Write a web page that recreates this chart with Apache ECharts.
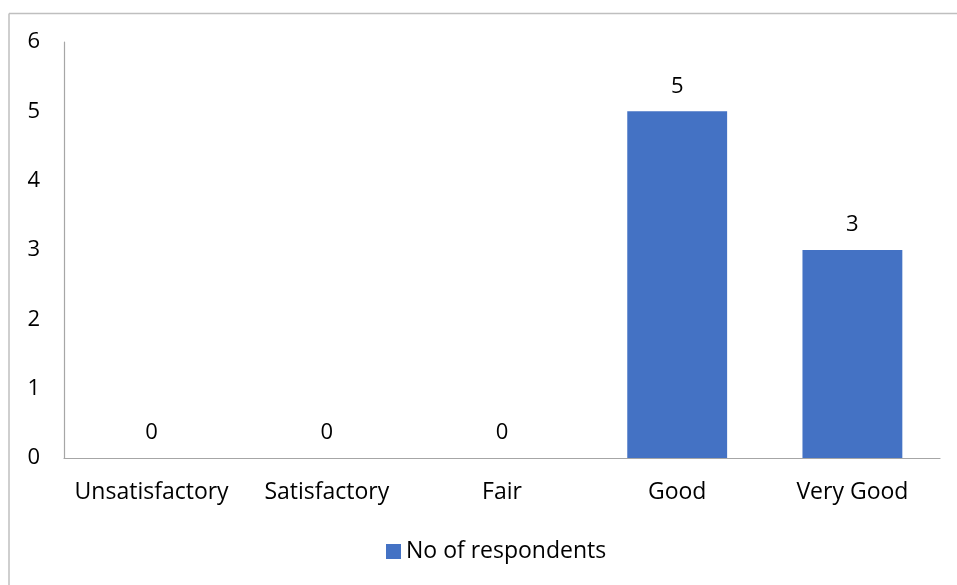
<!DOCTYPE html>
<html><head><meta charset="utf-8">
<script src="https://cdn.jsdelivr.net/npm/echarts@6/dist/echarts.min.js"></script>
<style>html,body{margin:0;padding:0;background:#fff}#c{width:957px;height:585px}</style>
</head><body><div id="c"></div>
<script>
const categories = ['Unsatisfactory', 'Satisfactory', 'Fair', 'Good', 'Very Good'];
const respondents = [0, 0, 0, 5, 3];
const seriesName = 'No of respondents';
const FONT = '"Open Sans", sans-serif';
const chart = echarts.init(document.getElementById('c'));
chart.setOption({
  animation: false,
  grid: {left: 64, right: 17, top: 42, bottom: 127},
  graphic: [
    {type: 'line', shape: {x1: 9, y1: 13.5, x2: 957, y2: 13.5}, style: {stroke: '#bfbfbf', lineWidth: 1.5}},
    {type: 'line', shape: {x1: 9, y1: 13.5, x2: 9, y2: 585}, style: {stroke: '#bfbfbf', lineWidth: 1.5}}
  ],
  legend: {
    data: [seriesName], top: 535, left: 381, itemWidth: 15, itemHeight: 15, itemGap: 6,
    icon: 'rect', textStyle: {fontFamily: FONT, fontSize: 23, color: '#000'}
  },
  xAxis: {
    type: 'category', data: categories,
    axisLine: {lineStyle: {color: '#a6a6a6', width: 1.2}}, axisTick: {show: false},
    axisLabel: {fontFamily: FONT, fontSize: 23, color: '#000', margin: 23, interval: 0}
  },
  yAxis: {
    type: 'value', min: 0, max: 6, interval: 1,
    splitLine: {show: false},
    axisLine: {show: true, lineStyle: {color: '#a6a6a6', width: 1.2}}, axisTick: {show: false},
    axisLabel: {fontFamily: FONT, fontSize: 22, color: '#000', margin: 24}
  },
  series: [{
    name: seriesName, type: 'bar', data: respondents, barWidth: '57%',
    itemStyle: {color: '#4472c4'},
    label: {show: true, position: 'top', distance: 14, fontFamily: FONT, fontSize: 22, color: '#000'}
  }]
});
</script></body></html>
